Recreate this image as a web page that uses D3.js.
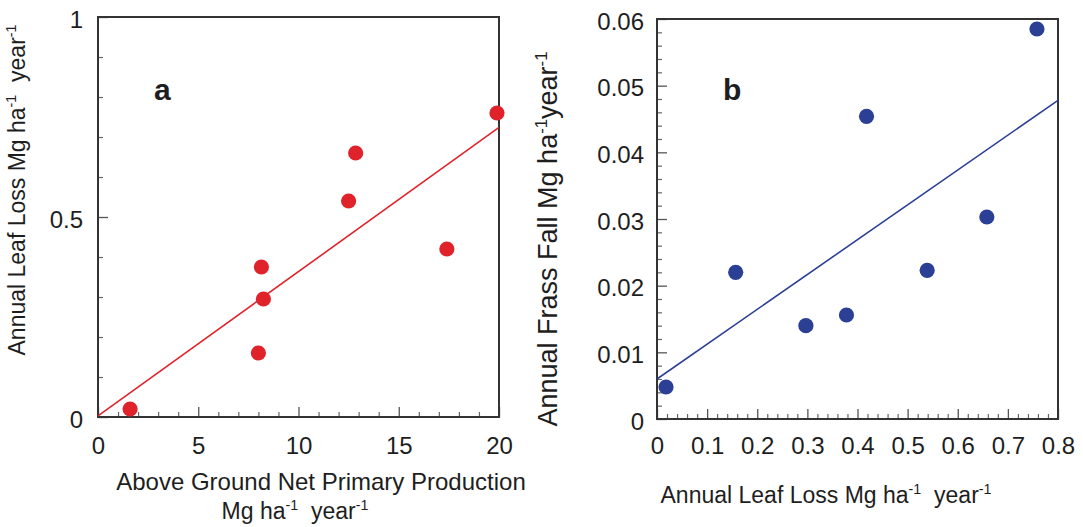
<!DOCTYPE html>
<html>
<head>
<meta charset="utf-8">
<script src="https://cdn.jsdelivr.net/npm/d3@7"></script>
<style>
  html, body { margin: 0; padding: 0; background: #fff; }
  svg { display: block; }
  text { font-family: "Liberation Sans", Arial, Helvetica, sans-serif; fill: #1e1e1e; }
</style>
</head>
<body>
<svg id="chart" width="1083" height="527"></svg>
<script>
// ---------- data ----------
const aNPP      = [1.6, 8.15, 8.25, 8.0, 12.5, 12.85, 17.4, 19.9];       // Mg ha-1 yr-1
const aLeafLoss = [0.02, 0.375, 0.295, 0.16, 0.54, 0.66, 0.42, 0.76];     // Mg ha-1 yr-1
const aFitX = [0, 20];
const aFitY = [0.003, 0.724];

const bLeafLoss = [0.018, 0.157, 0.297, 0.378, 0.418, 0.539, 0.658, 0.758];
const bFrass    = [0.0048, 0.022, 0.014, 0.0156, 0.0454, 0.0223, 0.0303, 0.0585];
const bFitX = [0, 0.8];
const bFitY = [0.006, 0.0478];

const aXTicks = [0, 5, 10, 15, 20];
const aYTicks = [0, 0.5, 1];
const aYTickLabels = ["0", "0.5", "1"];
const bXTicks = [0, 0.1, 0.2, 0.3, 0.4, 0.5, 0.6, 0.7, 0.8];
const bXTickLabels = ["0", "0.1", "0.2", "0.3", "0.4", "0.5", "0.6", "0.7", "0.8"];
const bYTicks = [0, 0.01, 0.02, 0.03, 0.04, 0.05, 0.06];
const bYTickLabels = ["0", "0.01", "0.02", "0.03", "0.04", "0.05", "0.06"];

const svg = d3.select("#chart");

function panel(cfg) {
  const g = svg.append("g");
  const x = d3.scaleLinear().domain(cfg.xDomain).range([cfg.left, cfg.right]);
  const y = d3.scaleLinear().domain(cfg.yDomain).range([cfg.bottom, cfg.top]);

  // minor ticks
  const minorX = d3.axisBottom(x).tickValues(cfg.xMinor).tickSizeInner(-5).tickSizeOuter(0).tickFormat("");
  const minorY = d3.axisLeft(y).tickValues(cfg.yMinor).tickSizeInner(-5).tickSizeOuter(0).tickFormat("");
  g.append("g").attr("transform", `translate(0,${cfg.bottom})`).call(minorX)
    .call(s => s.select(".domain").remove())
    .call(s => s.selectAll("text").remove())
    .call(s => s.selectAll("line").attr("stroke", "#666").attr("stroke-width", 1.2));
  g.append("g").attr("transform", `translate(${cfg.left},0)`).call(minorY)
    .call(s => s.select(".domain").remove())
    .call(s => s.selectAll("text").remove())
    .call(s => s.selectAll("line").attr("stroke", "#666").attr("stroke-width", 1.2));

  // major ticks
  const majX = d3.axisBottom(x).tickValues(cfg.xTicks).tickSizeInner(-10).tickSizeOuter(0)
    .tickPadding(cfg.xPad).tickFormat((d, i) => cfg.xLabels[i]);
  const majY = d3.axisLeft(y).tickValues(cfg.yTicks).tickSizeInner(-10).tickSizeOuter(0)
    .tickPadding(cfg.yPad).tickFormat((d, i) => cfg.yLabels[i]);
  g.append("g").attr("transform", `translate(0,${cfg.bottom})`).call(majX)
    .call(s => s.select(".domain").remove())
    .call(s => s.selectAll("line").attr("stroke", "#555").attr("stroke-width", 1.3))
    .call(s => s.selectAll("text").attr("font-size", 24).attr("fill", "#1e1e1e")
      .attr("font-family", '"Liberation Sans", Arial, sans-serif'));
  g.append("g").attr("transform", `translate(${cfg.left},0)`).call(majY)
    .call(s => s.select(".domain").remove())
    .call(s => s.selectAll("line").attr("stroke", "#555").attr("stroke-width", 1.3))
    .call(s => s.selectAll("text").attr("font-size", 24).attr("fill", "#1e1e1e").attr("dy", "0.42em")
      .attr("font-family", '"Liberation Sans", Arial, sans-serif'));

  // frame
  g.append("rect")
    .attr("x", cfg.left).attr("y", cfg.top)
    .attr("width", cfg.right - cfg.left).attr("height", cfg.bottom - cfg.top)
    .attr("fill", "none").attr("stroke", "#333").attr("stroke-width", 2);

  // fit line
  const fit = cfg.fitX.map((v, i) => [v, cfg.fitY[i]]);
  g.append("path").datum(fit)
    .attr("d", d3.line().x(d => x(d[0])).y(d => y(d[1])))
    .attr("fill", "none").attr("stroke", cfg.color).attr("stroke-width", 1.6);

  // points
  const pts = cfg.px.map((v, i) => [v, cfg.py[i]]);
  g.selectAll("circle.pt").data(pts).enter().append("circle")
    .attr("class", "pt")
    .attr("cx", d => x(d[0])).attr("cy", d => y(d[1])).attr("r", 7.6)
    .attr("fill", cfg.color);

  // panel letter
  g.append("text").attr("x", cfg.letterX).attr("y", 100)
    .attr("font-size", 30).attr("font-weight", "bold").attr("fill", "#111")
    .text(cfg.letter);
  return g;
}

function supText(sel, parts) {
  // parts: array of [text, isSup]; superscripts are raised, the following run is lowered back
  let pending = 0;
  parts.forEach(p => {
    const ts = sel.append("tspan").text(p[0]);
    if (p[1]) {
      ts.attr("font-size", "0.62em").attr("dy", "-0.6em");
      pending = 0.6 * 0.62;
    } else if (pending) {
      ts.attr("dy", (pending) + "em");
      pending = 0;
    }
  });
}

panel({
  left: 98, right: 499, top: 17, bottom: 417,
  xDomain: [0, 20], yDomain: [0, 1],
  xTicks: aXTicks, xLabels: aXTicks.map(String),
  yTicks: aYTicks, yLabels: aYTickLabels,
  xMinor: d3.range(1, 20).filter(v => v % 5 !== 0),
  yMinor: [0.1, 0.2, 0.3, 0.4, 0.6, 0.7, 0.8, 0.9],
  xPad: 20, yPad: 15,
  px: aNPP, py: aLeafLoss, fitX: aFitX, fitY: aFitY,
  color: "#e0232a", letter: "a", letterX: 154
});

panel({
  left: 657, right: 1058, top: 19, bottom: 419,
  xDomain: [0, 0.8], yDomain: [0, 0.06],
  xTicks: bXTicks, xLabels: bXTickLabels,
  yTicks: bYTicks, yLabels: bYTickLabels,
  xMinor: d3.range(0, 40).filter(k => k % 5 !== 0).map(k => k * 0.02),
  yMinor: d3.range(0, 30).filter(k => k % 5 !== 0).map(k => k * 0.002),
  xPad: 18, yPad: 13,
  px: bLeafLoss, py: bFrass, fitX: bFitX, fitY: bFitY,
  color: "#2b3f95", letter: "b", letterX: 723
});

// ---- axis titles ----
const t1 = svg.append("text").attr("x", 321).attr("y", 490).attr("text-anchor", "middle").attr("font-size", 24);
t1.text("Above Ground Net Primary Production");
const t2 = svg.append("text").attr("x", 295).attr("y", 519).attr("text-anchor", "middle").attr("font-size", 23)
  .style("white-space", "pre");
supText(t2, [["Mg ha", false], ["-1", true], ["  year", false], ["-1", true]]);

const t3 = svg.append("text").attr("transform", "translate(25,190) rotate(-90)")
  .attr("text-anchor", "middle").attr("font-size", 23).style("white-space", "pre");
supText(t3, [["Annual Leaf Loss Mg ha", false], ["-1", true], ["  year", false], ["-1", true]]);

const t4 = svg.append("text").attr("x", 826).attr("y", 503).attr("text-anchor", "middle").attr("font-size", 23)
  .style("white-space", "pre");
supText(t4, [["Annual Leaf Loss Mg ha", false], ["-1", true], ["  year", false], ["-1", true]]);

const t5 = svg.append("text").attr("transform", "translate(557,239) rotate(-90)")
  .attr("text-anchor", "middle").attr("font-size", 27).style("white-space", "pre");
supText(t5, [["Annual Frass Fall Mg ha", false], ["-1", true], ["year", false], ["-1", true]]);
</script>
</body>
</html>
